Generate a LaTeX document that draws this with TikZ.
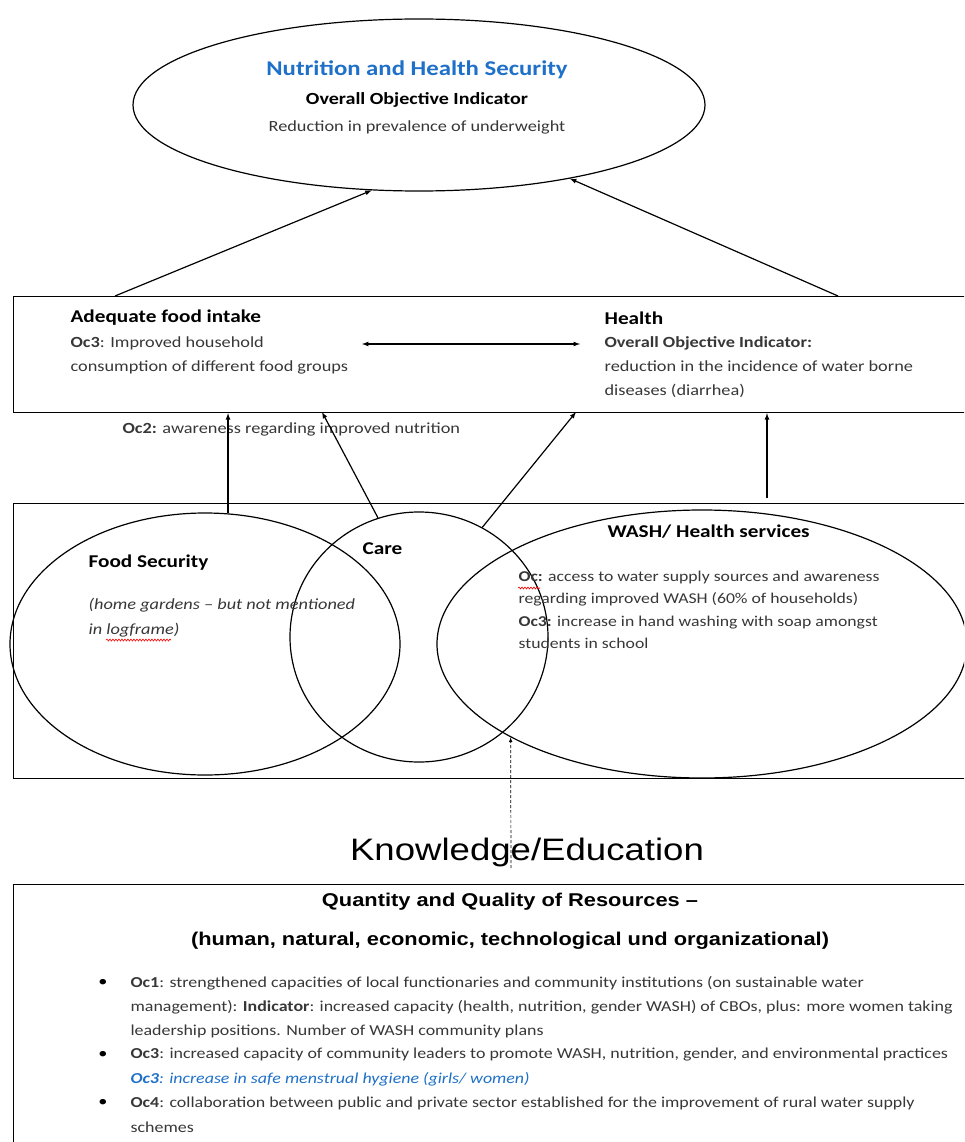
\documentclass[tikz,border=0pt]{standalone}
\usepackage{fontspec}
\setmainfont{Carlito}[FakeStretch=1.18]
\newfontfamily\arialfont{Liberation Sans}[FakeStretch=1.18,Ligatures=TeX]
\usepackage{tikz}
\usetikzlibrary{shapes.geometric,decorations.pathmorphing}
\definecolor{titleblue}{RGB}{31,112,200}
\definecolor{bodygray}{RGB}{55,55,55}

\begin{document}
\begin{tikzpicture}[x=1pt,y=-1pt,line width=1.2pt,>=latex,
  frame/.style={draw,rectangle,anchor=north west,inner sep=0pt},
  blob/.style={draw,ellipse,inner sep=0pt},
  head/.style={font=\bfseries\fontsize{18}{24}\selectfont,inner sep=0pt},
  body/.style={font=\fontsize{15.5}{24}\selectfont,text=bodygray,inner sep=0pt,align=left},
  item/.style={body,anchor=west,font=\fontsize{15.2}{24}\selectfont},
  sanshead/.style={font=\arialfont\bfseries\fontsize{18.5}{24}\selectfont,inner sep=0pt},
  squiggle/.style={red,line width=0.6pt,decorate,decoration={snake,amplitude=1pt,segment length=3pt}}]
\useasboundingbox (0,0) rectangle (964,1142);
\clip (0,0) rectangle (964,1142);

% goal
\node[blob,minimum width=572pt,minimum height=172pt] (goal) at (419,105) {};
\node[font=\bfseries\fontsize{21}{24}\selectfont,text=titleblue] (goaltitle) at (417,70) {Nutrition and Health Security};
\node[head,font=\bfseries\fontsize{17}{24}\selectfont] (goalind) at (417,100) {Overall Objective Indicator};
\node[body] (goaltext) at (417,127) {Reduction in prevalence of underweight};

% outcomes
\node[frame,minimum width=980pt,minimum height=116pt] (outcome) at (13,296) {};
\node[head,anchor=west] (intakehead) at (70,318) {Adequate food intake};
\node[body,anchor=north west] (intaketext) at (70,336) {\textbf{Oc3}: Improved household\\consumption of different food groups};
\node[head,anchor=west] (healthhead) at (604,318) {Health};
\node[body,anchor=north west] (healthtext) at (604,336) {\textbf{Overall Objective Indicator:}\\reduction in the incidence of water borne\\diseases (diarrhea)};
\coordinate (linkl) at (362,344);
\coordinate (linkr) at (580,344);
\draw[<->] (linkl) -- (linkr);
\coordinate (upl) at (115,296);
\coordinate (upr) at (838,296);
\draw[->] (upl) -- (goal.241);
\draw[->] (upr) -- (goal.334);

\node[body,anchor=west] (awareness) at (122,429) {\textbf{Oc2:} awareness regarding improved nutrition};

% causes
\node[frame,minimum width=980pt,minimum height=275pt] (causes) at (13,503) {};
\node[blob,minimum width=390pt,minimum height=262pt] (foodsec) at (205,644) {};
\node[blob,minimum width=258pt,minimum height=250pt] (care) at (419,637) {};
\node[blob,minimum width=530pt,minimum height=268pt] (wash) at (702,644) {};
\node[head,anchor=west] (foodhead) at (88,563) {Food Security};
\node[body,anchor=north west,font=\itshape\fontsize{15.5}{25}\selectfont] (foodtext) at (88,598) {(home gardens -- but not mentioned\\in logframe)};
\draw[squiggle] (106,640) -- (171,640);
\node[head,anchor=west] (carehead) at (362,549) {Care};
\node[head,anchor=west] (washhead) at (607,532) {WASH/ Health services};
\node[body,anchor=north west,font=\fontsize{15}{22.5}\selectfont] (washtext) at (518,570) {\textbf{Oc:} access to water supply sources and awareness\\regarding improved WASH (60\% of households)\\\textbf{Oc3:} increase in hand washing with soap amongst\\students in school};
\draw[squiggle] (518,588) -- (540,588);

\coordinate (carein) at (322,412);
\coordinate (washin) at (576,412);
\coordinate (washout) at (767,498);
\draw[->] (foodsec.80) -- (foodsec.80 |- outcome.south);
\draw[->] (care.109) -- (carein);
\draw[->] (care.60) -- (washin);
\draw[->] (washout) -- (washout |- outcome.south);

% knowledge
\node[font=\arialfont\fontsize{31}{40}\selectfont] (knowledge) at (527,852) {Knowledge/Education};
\coordinate (knowup) at (511,868);
\draw[->,line width=0.7pt,dash pattern=on 3pt off 2pt] (knowup) -- (wash.206);

% resources
\node[frame,minimum width=980pt,minimum height=300pt] (resources) at (13,884) {};
\node[sanshead] (reshead) at (510,902) {Quantity and Quality of Resources --};
\node[sanshead] (ressub) at (510,941) {(human, natural, economic, technological und organizational)};
\foreach \y in {983,1055,1103}
  \node[body,text=black] at (103,\y) {\textbullet};
\node[item] (oc1a) at (130,983) {\textbf{Oc1}: strengthened capacities of local functionaries and community institutions (on sustainable water};
\node[item] (oc1b) at (130,1007) {management): \textbf{Indicator}: increased capacity (health, nutrition, gender WASH) of CBOs, plus: more women taking};
\node[item] (oc1c) at (130,1031) {leadership positions. Number of WASH community plans};
\node[item] (oc3a) at (130,1055) {\textbf{Oc3}: increased capacity of community leaders to promote WASH, nutrition, gender, and environmental practices};
\node[item,text=titleblue,font=\itshape\fontsize{15.2}{24}\selectfont] (oc3b) at (130,1079) {\textbf{Oc3}: increase in safe menstrual hygiene (girls/ women)};
\node[item] (oc4a) at (130,1103) {\textbf{Oc4}: collaboration between public and private sector established for the improvement of rural water supply};
\node[item] (oc4b) at (130,1127) {schemes};
\end{tikzpicture}
\end{document}
